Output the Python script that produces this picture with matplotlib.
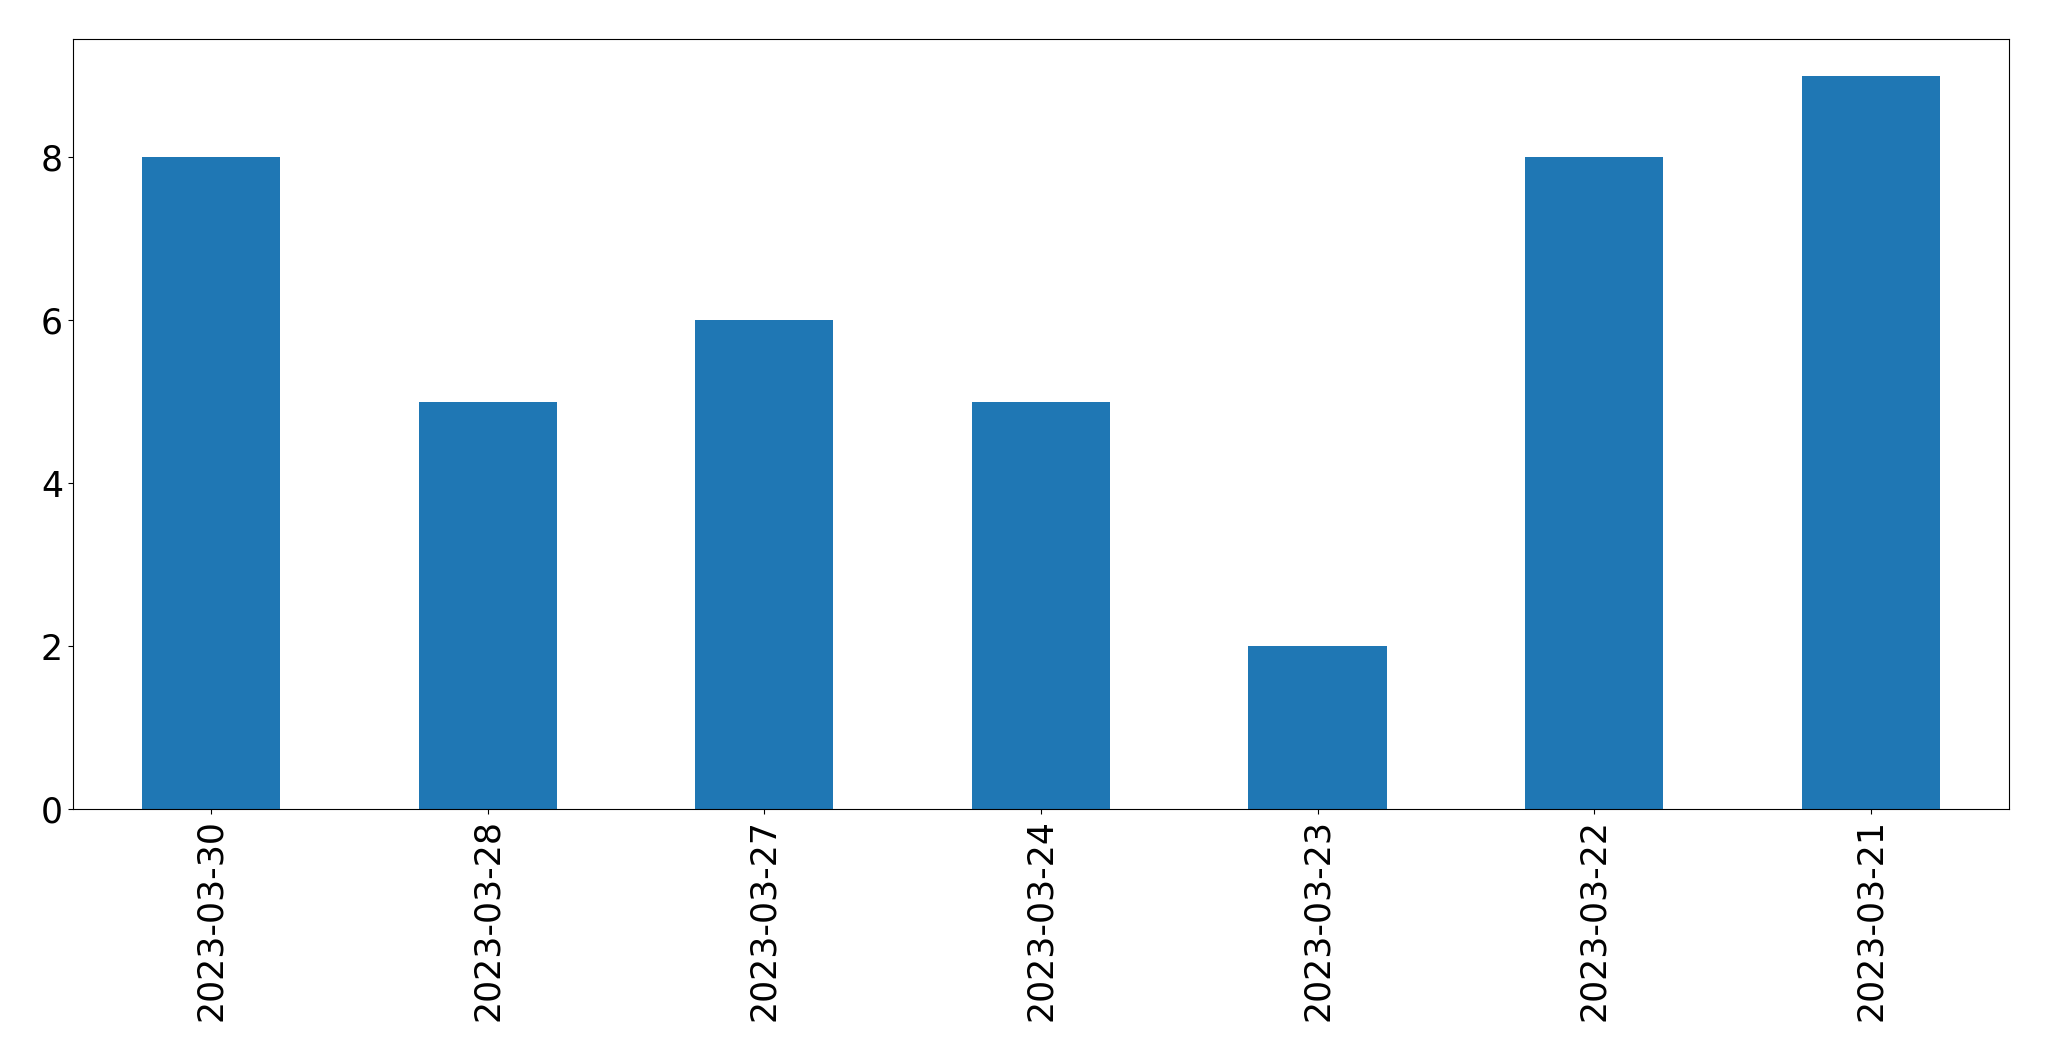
import matplotlib
matplotlib.use("Agg")
import matplotlib.pyplot as plt
import pandas as pd

# counts per day, in the order shown on the chart
dates = ["2023-03-30", "2023-03-28", "2023-03-27", "2023-03-24",
         "2023-03-23", "2023-03-22", "2023-03-21"]
counts = [8, 5, 6, 5, 2, 8, 9]

s = pd.Series(counts, index=dates)

fig, ax = plt.subplots(figsize=(20.49, 10.61), dpi=100)
fig.subplots_adjust(left=0.0355, right=0.9805, bottom=0.2375, top=0.9632)

s.plot(kind="bar", ax=ax, color="#1f77b4", fontsize=25)

plt.savefig("out.png", dpi=100)
